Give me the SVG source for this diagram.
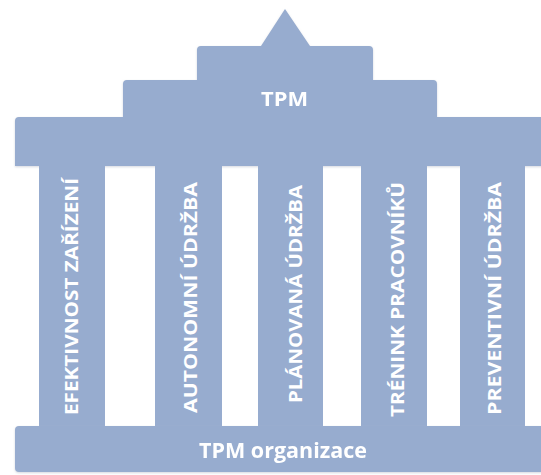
<svg xmlns="http://www.w3.org/2000/svg" width="541" height="475" viewBox="0 0 541 475">
  <defs>
    <style>
      .shape { fill: #97ACCF; }
      .lbl { font-family: "Open Sans", "Liberation Sans", sans-serif; font-weight: bold; fill: #FFFFFF; }
      .vlbl { font-size: 17.5px; text-anchor: middle; }
      .hlbl { text-anchor: middle; }
    </style>
    <filter id="soft" x="-5%" y="-5%" width="110%" height="110%">
      <feDropShadow dx="0" dy="1" stdDeviation="1" flood-color="#B9C0CC" flood-opacity="0.6"/>
    </filter>
  </defs>
  <rect x="0" y="0" width="541" height="475" fill="#FFFFFF"/>

  <g id="roof" filter="url(#soft)">
    <path class="shape" d="M15 166 V121 Q15 117 19 117 H123 V84 Q123 80 127 80 H197 V50 Q197 46 201 46 H261 L285 9 L310 46 H369 Q373 46 373 50 V80 H433 Q437 80 437 84 V117 H545 V166 Z"/>
    <text class="lbl hlbl" x="284.5" y="106" font-size="20" textLength="47" lengthAdjust="spacingAndGlyphs">TPM</text>
  </g>

  <g id="pillar-efektivnost">
    <rect class="shape" x="39" y="164" width="66" height="264"/>
    <text class="lbl vlbl" transform="translate(77.5 296.5) rotate(-90)" textLength="237" lengthAdjust="spacingAndGlyphs">EFEKTIVNOST ZAŘÍZENÍ</text>
  </g>

  <g id="pillar-autonomni">
    <rect class="shape" x="155" y="164" width="67" height="264"/>
    <text class="lbl vlbl" transform="translate(196.5 297.5) rotate(-90)" textLength="231" lengthAdjust="spacingAndGlyphs">AUTONOMNÍ ÚDRŽBA</text>
  </g>

  <g id="pillar-planovana">
    <rect class="shape" x="258" y="164" width="65" height="264"/>
    <text class="lbl vlbl" transform="translate(302 294) rotate(-90)" textLength="218" lengthAdjust="spacingAndGlyphs">PLÁNOVANÁ ÚDRŽBA</text>
  </g>

  <g id="pillar-trenink">
    <rect class="shape" x="361" y="164" width="66" height="264"/>
    <text class="lbl vlbl" transform="translate(403.5 299.5) rotate(-90)" textLength="235" lengthAdjust="spacingAndGlyphs">TRÉNINK PRACOVNÍKŮ</text>
  </g>

  <g id="pillar-preventivni">
    <rect class="shape" x="460" y="164" width="65" height="264"/>
    <text class="lbl vlbl" transform="translate(500.5 298.5) rotate(-90)" textLength="233" lengthAdjust="spacingAndGlyphs">PREVENTIVNÍ ÚDRŽBA</text>
  </g>

  <g id="base" filter="url(#soft)">
    <rect class="shape" x="15" y="426" width="540" height="46" rx="4"/>
    <text class="lbl hlbl" x="283" y="458" font-size="21" textLength="168" lengthAdjust="spacingAndGlyphs">TPM organizace</text>
  </g>

  <g id="connectors"/>
</svg>
